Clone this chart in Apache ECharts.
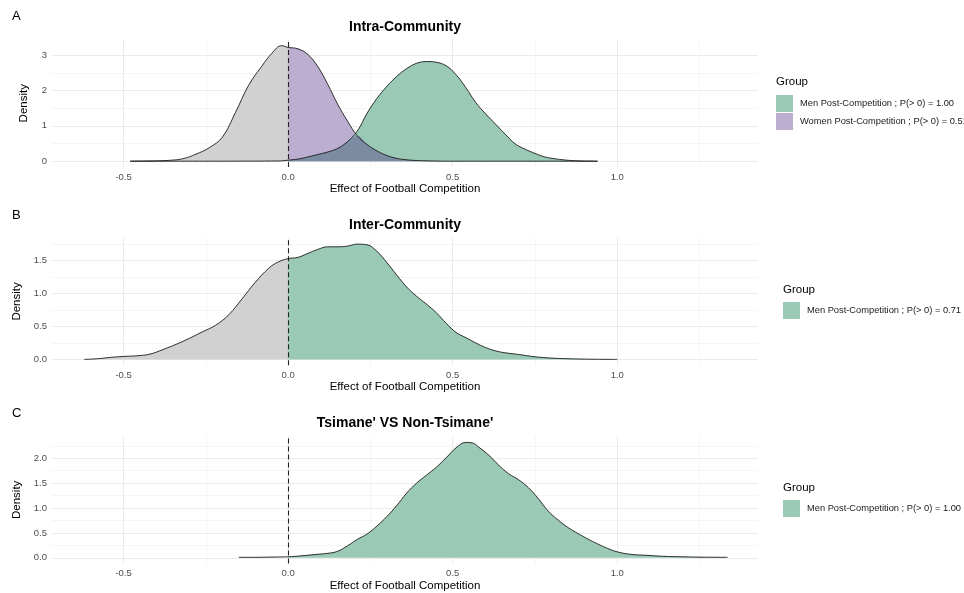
<!DOCTYPE html>
<html>
<head>
<meta charset="utf-8">
<script src="https://cdn.jsdelivr.net/npm/echarts@6/dist/echarts.min.js"></script>
<style>
    html, body {margin: 0; padding: 0; background: #fff;}
    #chart {width: 964px; height: 593px;}
</style>
</head>
<body>
<div id="chart"></div>
<script>
// x axis shared by all panels
var xTicks = [-0.5, 0, 0.5, 1.0]
var xMinorTicks = [-0.25, 0.25, 0.75, 1.25]
var xRange = [-0.7175, 1.4275]

// A: Intra-Community
var xA = [-0.48, -0.44, -0.40, -0.36, -0.32, -0.28, -0.24, -0.20, -0.16, -0.12, -0.08, -0.05, -0.02, 0.00,
    0.03, 0.06, 0.09, 0.12, 0.15, 0.18, 0.21, 0.24, 0.27, 0.30, 0.33, 0.36, 0.39, 0.42, 0.45, 0.48,
    0.51, 0.54, 0.57, 0.60, 0.63, 0.66, 0.69, 0.72, 0.75, 0.78, 0.81, 0.84, 0.88, 0.94]
var womenA = [0, 0.005, 0.01, 0.025, 0.07, 0.2, 0.38, 0.68, 1.38, 2.15, 2.69, 3.05, 3.27, 3.22,
    3.18, 3.02, 2.68, 2.18, 1.62, 1.14, 0.72, 0.47, 0.29, 0.16, 0.08, 0.04, 0.02, 0.01, 0.005, 0,
    0, 0, 0, 0, 0, 0, 0, 0, 0, 0, 0, 0, 0, 0]
var menA = [0, 0, 0, 0, 0, 0, 0, 0, 0.001, 0.002, 0.003, 0.005, 0.01, 0.03,
    0.06, 0.12, 0.19, 0.26, 0.36, 0.55, 0.85, 1.36, 1.78, 2.12, 2.40, 2.62, 2.77, 2.82, 2.80, 2.70,
    2.45, 2.08, 1.66, 1.34, 1.05, 0.76, 0.49, 0.34, 0.22, 0.12, 0.07, 0.035, 0.01, 0]
var yTicksA = [0, 1, 2, 3]
var yMinorA = [0.5, 1.5, 2.5]
var yRangeA = [-0.164, 3.444]

// B: Inter-Community
var xB = [-0.62, -0.58, -0.54, -0.50, -0.46, -0.42, -0.38, -0.34, -0.30, -0.26, -0.22, -0.18, -0.14, -0.10, -0.06,
    -0.03, 0.00, 0.03, 0.06, 0.09, 0.12, 0.15, 0.18, 0.21, 0.24, 0.27, 0.30, 0.33, 0.36, 0.39, 0.42, 0.45,
    0.48, 0.51, 0.54, 0.57, 0.60, 0.63, 0.66, 0.70, 0.75, 0.80, 0.85, 0.92, 1.00]
var menB = [0, 0.01, 0.03, 0.045, 0.055, 0.08, 0.15, 0.23, 0.32, 0.42, 0.52, 0.68, 0.92, 1.17, 1.38,
    1.48, 1.53, 1.55, 1.61, 1.67, 1.71, 1.71, 1.72, 1.75, 1.74, 1.64, 1.47, 1.28, 1.10, 0.96, 0.84, 0.71,
    0.55, 0.41, 0.33, 0.25, 0.18, 0.13, 0.10, 0.075, 0.04, 0.02, 0.01, 0.003, 0]
var yTicksB = [0, 0.5, 1.0, 1.5]
var yMinorB = [0.25, 0.75, 1.25, 1.75]
var yRangeB = [-0.088, 1.848]

// C: Tsimane' VS Non-Tsimane'
var xC = [-0.15, -0.10, -0.05, 0.00, 0.04, 0.08, 0.12, 0.15, 0.18, 0.21, 0.24, 0.27, 0.30, 0.33, 0.36,
    0.39, 0.42, 0.45, 0.48, 0.51, 0.54, 0.56, 0.58, 0.61, 0.64, 0.67, 0.70, 0.73, 0.76, 0.79, 0.82,
    0.85, 0.88, 0.91, 0.94, 0.97, 1.00, 1.04, 1.09, 1.14, 1.20, 1.27, 1.335]
var menC = [0.01, 0.01, 0.015, 0.02, 0.04, 0.065, 0.09, 0.13, 0.24, 0.37, 0.48, 0.64, 0.83, 1.05, 1.30,
    1.50, 1.66, 1.82, 2.01, 2.21, 2.32, 2.31, 2.22, 2.06, 1.86, 1.69, 1.57, 1.41, 1.19, 0.94, 0.76,
    0.61, 0.49, 0.38, 0.28, 0.19, 0.12, 0.07, 0.05, 0.03, 0.02, 0.012, 0.01]
var yTicksC = [0, 0.5, 1.0, 1.5, 2.0]
var yMinorC = [0.25, 0.75, 1.25, 1.75, 2.25]
var yRangeC = [-0.1165, 2.4465]

var menA_name = 'Men Post-Competition ; P(> 0) = 1.00'
var womenA_name = 'Women Post-Competition ; P(> 0) = 0.51'
var menB_name = 'Men Post-Competition ; P(> 0) = 0.71'
var menC_name = 'Men Post-Competition ; P(> 0) = 1.00'

var GREEN = '#9AC9B5', PURPLE = '#BBAED1', GRAY = '#D1D1D1', OVERLAP = '#7B8CA2'
var GRID_COLOR = '#EBEBEB'

function pairs(x, y, side) {
    var out = []
    for (var i = 0; i < x.length; i++) {
        if (side == 'neg' && x[i] > 0) continue
        if (side == 'pos' && x[i] < 0) continue
        out.push([x[i], y[i]])
    }
    return out
}

var grids = [], xAxes = [], yAxes = [], series = []

function areaSeries(idx, name, data, color, z) {
    return {
        name: name, type: 'line', xAxisIndex: idx * 2, yAxisIndex: idx * 2,
        data: data, smooth: 0.4, showSymbol: false, silent: true, z: z,
        itemStyle: {color: color},
        lineStyle: {width: 0, color: color},
        areaStyle: {color: color, opacity: 1}
    }
}

function outlineSeries(idx, data, withVline) {
    var s = {
        type: 'line', xAxisIndex: idx * 2, yAxisIndex: idx * 2,
        data: data, smooth: 0.4, showSymbol: false, silent: true, z: 6,
        lineStyle: {width: 0.9, color: '#1A1A1A'}
    }
    if (withVline) {
        s.markLine = {
            silent: true, symbol: 'none', z: 7,
            label: {show: false},
            lineStyle: {type: [5, 3], color: '#222222', width: 1.1},
            data: [{xAxis: 0}]
        }
    }
    return s
}

function addPanel(idx, top, yTicks, yMinor, yRange, digits) {
    grids.push({left: 52, width: 706, top: top, height: 127.5})
    // major x axis with labels
    xAxes.push({
        type: 'value', gridIndex: idx, min: xRange[0], max: xRange[1], position: 'bottom',
        axisLine: {show: false, onZero: false},
        axisTick: {show: false, customValues: xTicks},
        axisLabel: {
            customValues: xTicks, color: '#4D4D4D', fontSize: 9.5, margin: 5,
            formatter: function (v) { return v.toFixed(1) }
        },
        splitLine: {show: true, lineStyle: {color: GRID_COLOR, width: 1}},
        name: 'Effect of Football Competition', nameLocation: 'middle', nameGap: 16,
        nameTextStyle: {fontSize: 11.5, color: '#000'}
    })
    // minor x grid lines
    xAxes.push({
        type: 'value', gridIndex: idx, min: xRange[0], max: xRange[1], position: 'bottom',
        axisLine: {show: false, onZero: false},
        axisTick: {show: false, customValues: xMinorTicks},
        axisLabel: {show: false},
        splitLine: {show: true, lineStyle: {color: GRID_COLOR, width: 0.5}}
    })
    yAxes.push({
        type: 'value', gridIndex: idx, min: yRange[0], max: yRange[1], position: 'left',
        axisLine: {show: false, onZero: false},
        axisTick: {show: false, customValues: yTicks},
        axisLabel: {
            customValues: yTicks, color: '#4D4D4D', fontSize: 9.5, margin: 5,
            formatter: function (v) { return v.toFixed(digits) }
        },
        splitLine: {show: true, lineStyle: {color: GRID_COLOR, width: 1}},
        name: 'Density', nameLocation: 'middle', nameGap: 22,
        nameTextStyle: {fontSize: 11.5, color: '#000'}
    })
    yAxes.push({
        type: 'value', gridIndex: idx, min: yRange[0], max: yRange[1], position: 'left',
        axisLine: {show: false, onZero: false},
        axisTick: {show: false, customValues: yMinor},
        axisLabel: {show: false},
        splitLine: {show: true, lineStyle: {color: GRID_COLOR, width: 0.5}}
    })
}

addPanel(0, 39.5, yTicksA, yMinorA, yRangeA, 0)
addPanel(1, 237.7, yTicksB, yMinorB, yRangeB, 1)
addPanel(2, 436.1, yTicksC, yMinorC, yRangeC, 1)

// overlap of the two positive parts in A
var overlapA = []
for (var i = 0; i < xA.length; i++) {
    if (xA[i] >= 0) overlapA.push([xA[i], Math.min(womenA[i], menA[i])])
}

// panel A
series.push(areaSeries(0, 'negA1', pairs(xA, womenA, 'neg'), GRAY, 2))
series.push(areaSeries(0, 'negA2', pairs(xA, menA, 'neg'), GRAY, 2))
series.push(areaSeries(0, womenA_name, pairs(xA, womenA, 'pos'), PURPLE, 3))
series.push(areaSeries(0, menA_name, pairs(xA, menA, 'pos'), GREEN, 4))
series.push(areaSeries(0, 'overlapA', overlapA, OVERLAP, 5))
series.push(outlineSeries(0, pairs(xA, womenA), false))
series.push(outlineSeries(0, pairs(xA, menA), true))
// panel B
series.push(areaSeries(1, 'negB', pairs(xB, menB, 'neg'), GRAY, 2))
series.push(areaSeries(1, menB_name, pairs(xB, menB, 'pos'), GREEN, 4))
series.push(outlineSeries(1, pairs(xB, menB), true))
// panel C
series.push(areaSeries(2, 'negC', pairs(xC, menC, 'neg'), GRAY, 2))
series.push(areaSeries(2, menC_name + ' ', pairs(xC, menC, 'pos'), GREEN, 4))
series.push(outlineSeries(2, pairs(xC, menC), true))

function legend(left, top, items) {
    return {
        left: left, top: top, orient: 'vertical', padding: 0,
        itemWidth: 17, itemHeight: 17, itemGap: 1, icon: 'rect',
        selectedMode: false,
        itemStyle: {borderWidth: 0},
        textStyle: {fontSize: 9.3, color: '#1A1A1A', padding: [0, 0, 0, 2]},
        data: items
    }
}

function label(text, x, y, size, bold, align) {
    return {
        type: 'text', x: x, y: y, silent: true,
        style: {
            text: text, fill: '#000', font: (bold ? 'bold ' : '') + size + 'px "Liberation Sans"',
            textAlign: align || 'left', textVerticalAlign: 'middle'
        }
    }
}

var chart = echarts.init(document.getElementById('chart'), null, {renderer: 'canvas'})
chart.setOption({
    animation: false,
    backgroundColor: '#fff',
    textStyle: {fontFamily: 'Liberation Sans'},
    grid: grids,
    xAxis: xAxes,
    yAxis: yAxes,
    legend: [
        legend(776, 95, [
            {name: menA_name, itemStyle: {color: GREEN}},
            {name: womenA_name, itemStyle: {color: PURPLE}}
        ]),
        legend(783, 302, [{name: menB_name, itemStyle: {color: GREEN}}]),
        legend(783, 500, [{name: menC_name + ' ', itemStyle: {color: GREEN}}])
    ],
    graphic: [
        label('A', 12, 16, 13, false),
        label('B', 12, 215, 13, false),
        label('C', 12, 413, 13, false),
        label('Intra-Community', 405, 27, 14, true, 'center'),
        label('Inter-Community', 405, 225, 14, true, 'center'),
        label("Tsimane' VS Non-Tsimane'", 405, 423, 14, true, 'center'),
        label('Group', 776, 82, 11.5, false),
        label('Group', 783, 290, 11.5, false),
        label('Group', 783, 488, 11.5, false)
    ],
    series: series
})
</script>
</body>
</html>
